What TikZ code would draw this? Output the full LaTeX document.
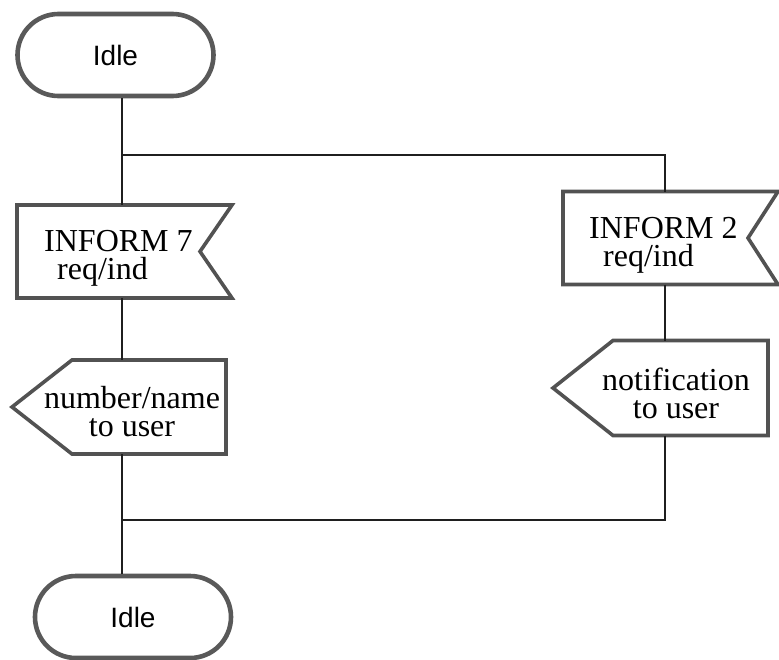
\documentclass[tikz,border=0pt]{standalone}
\usepackage{fontspec}
\setmainfont{Liberation Serif}
\newfontfamily\termfont{Liberation Sans}
\usetikzlibrary{shapes.misc}
\begin{document}
\begin{tikzpicture}[x=1pt,y=-1pt,
  conn/.style={line width=2pt,draw=black!88},
  outline/.style={line width=3.6pt,draw=black!68,line join=miter},
  term/.style={rounded rectangle,draw=black!65,line width=4.6pt,
    minimum width=196pt,minimum height=82pt,inner sep=0pt,
    font=\termfont\fontsize{28}{30}\selectfont},
  body/.style={rectangle,draw=none,inner sep=0pt,outer sep=0pt},
  label/.style={inner sep=0pt,font=\fontsize{32}{28}\selectfont}]
\useasboundingbox (0,0) rectangle (779,659);

% column guides
\coordinate (colL) at (122,0);
\coordinate (colR) at (665,0);

% start and end states
\node[term] (idle1) at (115.5,55) {Idle};
\node[term] (idle2) at (133,617) {Idle};

% left branch: input INFORM 7, output number/name
\node[body,minimum width=215pt,minimum height=93pt] (inf7) at (124.5,251.5) {};
\draw[outline] (inf7.north west) -- (inf7.north east) -- ([xshift=-32pt]inf7.east)
  -- (inf7.south east) -- (inf7.south west) -- cycle;
\node[label,align=left,anchor=north west] (inf7txt) at (44,230)
  {INFORM 7\\\hspace*{13pt}req/ind};

\node[body,minimum width=214pt,minimum height=94pt] (numname) at (119,407) {};
\draw[outline] (numname.west) -- ([xshift=60pt]numname.north west) -- (numname.north east)
  -- (numname.south east) -- ([xshift=60pt]numname.south west) -- cycle;
\node[label,align=center] (numnametxt) at (132,412) {number/name\\to user};

% right branch: input INFORM 2, output notification
\node[body,minimum width=215pt,minimum height=93pt] (inf2) at (670.5,238) {};
\draw[outline] (inf2.north west) -- (inf2.north east) -- ([xshift=-30pt]inf2.east)
  -- (inf2.south east) -- (inf2.south west) -- cycle;
\node[label,align=left,anchor=north west] (inf2txt) at (589,217)
  {INFORM 2\\\hspace*{14pt}req/ind};

\node[body,minimum width=215pt,minimum height=95pt] (notif) at (660.5,388) {};
\draw[outline] (notif.west) -- ([xshift=60pt]notif.north west) -- (notif.north east)
  -- (notif.south east) -- ([xshift=60pt]notif.south west) -- cycle;
\node[label,align=center] (notiftxt) at (676,393) {notification\\to user};

% split and join points
\coordinate (split) at (122,155);
\coordinate (join) at (122,520);

% connectors
\draw[conn] (idle1.south -| colL) -- (inf7.north -| colL);
\draw[conn] (split) -| (inf2.north -| colR);
\draw[conn] (inf7.south -| colL) -- (numname.north -| colL);
\draw[conn] (inf2.south -| colR) -- (notif.north -| colR);
\draw[conn] (numname.south -| colL) -- (idle2.north -| colL);
\draw[conn] (notif.south -| colR) |- (join);
\end{tikzpicture}
\end{document}
